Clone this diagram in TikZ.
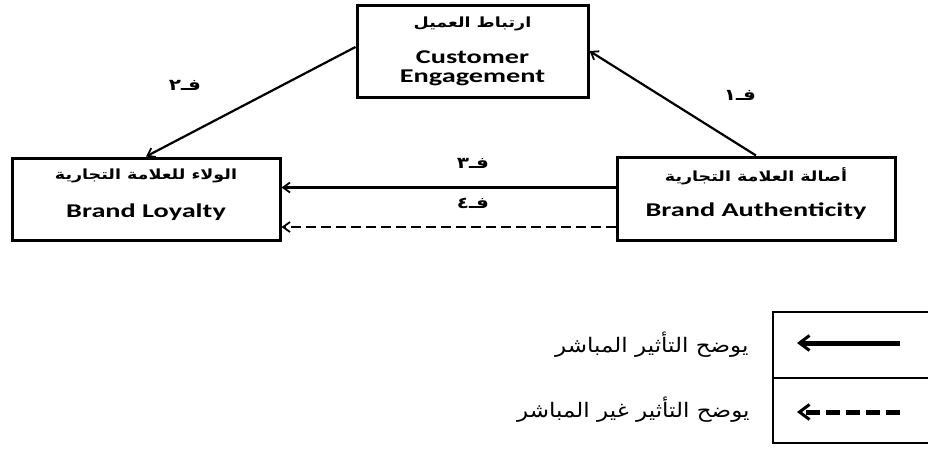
\documentclass[tikz,border=0pt]{standalone}
\usepackage{fontspec}
\usetikzlibrary{arrows.meta,calc,shadows}
\TeXXeTstate=1
\newfontfamily\arboxfont[Script=Arabic,FakeStretch=1.25]{DejaVu Sans}
\newfontfamily\arlegfont[Script=Arabic,FakeStretch=1.15]{DejaVu Sans}
\newfontfamily\enfont[FakeStretch=1.45]{Carlito}
\begin{document}
\begin{tikzpicture}[
    x=1pt,
    y=-1pt,
    box/.style={draw, line width=3pt, fill=white, inner sep=0pt,
      drop shadow={shadow xshift=1.5pt, shadow yshift=-1.5pt, opacity=0.3}},
    artxt/.style={font=\fontsize{14}{16}\selectfont\arboxfont\bfseries, inner sep=0pt},
    entxt/.style={font=\fontsize{19.5}{22}\selectfont\enfont\bfseries, inner sep=0pt},
    arr/.style={-{Straight Barb[length=7pt,width=10pt,line width=1.8pt]}, line width=2.2pt},
    dsh/.style={arr, dash pattern=on 10pt off 5pt},
    lbl/.style={font=\fontsize{16}{18}\selectfont\arboxfont\bfseries},
    leg/.style={line width=1.6pt},
    legarr/.style={-{Straight Barb[length=10pt,width=15pt,line width=3pt]}, line width=5pt},
    legtxt/.style={font=\fontsize{20}{22}\selectfont\arlegfont, anchor=east},
  ]
  \useasboundingbox (0,0) rectangle (928,448);
  \node[box, minimum width=231pt, minimum height=92pt] (ce) at (472.5,51) {};
  \node[box, minimum width=268pt, minimum height=82pt] (bl) at (146,199) {};
  \node[box, minimum width=278pt, minimum height=83pt] (ba) at (756,198.5) {};
  \node[artxt] (cear) at (472.5,24) {\beginR ارتباط العميل\endR};
  \node[entxt] (cen1) at (472.5,57) {Customer};
  \node[entxt] (cen2) at (472.5,78) {Engagement};
  \node[artxt] (blar) at (146,176) {\beginR الولاء للعلامة التجارية\endR};
  \node[entxt] (blen) at (146,212) {Brand Loyalty};
  \node[artxt] (baar) at (756,176) {\beginR أصالة العلامة التجارية\endR};
  \node[entxt] (baen) at (756,211) {Brand Authenticity};
  \coordinate (d1) at ($(ba.west)+(0,-11)$);
  \coordinate (d2) at ($(ba.west)+(0,28.5)$);
  \draw[arr] ($(ce.west)+(0,-4)$) -- (bl.north);
  \draw[arr] (ba.north) -- (ce.east);
  \draw[arr] (d1) -- (d1 -| bl.east);
  \draw[dsh] (d2) -- (d2 -| bl.east);
  \node[lbl] (p1) at (740,95) {\beginR فـ١\endR};
  \node[lbl] (p2) at (185,85) {\beginR فـ٢\endR};
  \node[lbl] (p3) at (473,163) {\beginR فـ٣\endR};
  \node[lbl] (p4) at (473,203) {\beginR فـ٤\endR};
  \draw[leg] (928,312) -- (773,312) -- (773,443) -- (928,443);
  \draw[leg] (773,378) -- (928,378);
  \coordinate (s1) at (900,343);
  \coordinate (e1) at (797,343);
  \coordinate (s2) at (900,412);
  \coordinate (e2) at (797,412);
  \draw[legarr] (s1) -- (e1);
  \draw[legarr, dash pattern=on 14pt off 6pt] (s2) -- (e2);
  \node[legtxt] (t1) at (752,345) {\beginR يوضح التأثير المباشر\endR};
  \node[legtxt] (t2) at (753,410) {\beginR يوضح التأثير غير المباشر\endR};
\end{tikzpicture}
\end{document}
